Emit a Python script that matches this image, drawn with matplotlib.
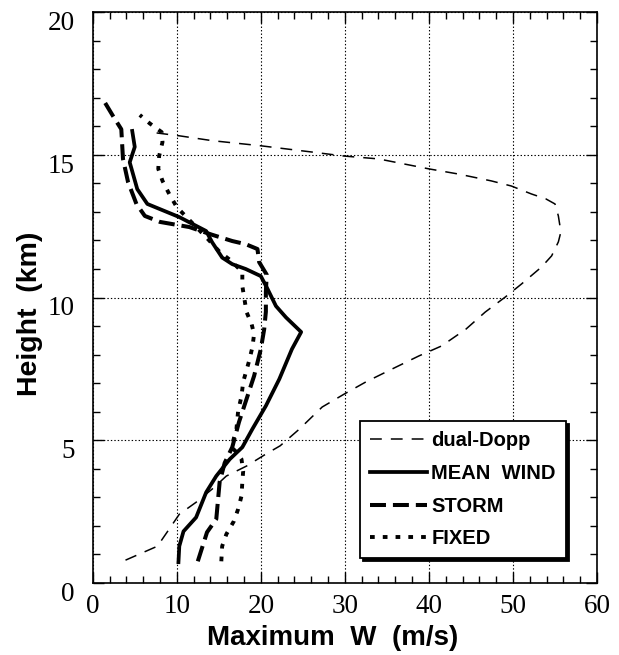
import matplotlib
matplotlib.use("Agg")
import matplotlib.pyplot as plt
import matplotlib.transforms as mtransforms
from matplotlib.ticker import MultipleLocator

# ---- data (W in m/s, height in km) ----
dual_w = [3.9, 7.7, 9.1, 10.3, 12.3, 14.2, 15.9, 18.3, 20.6, 22.3, 24.6, 27.3, 29.9,
          32.5, 35.6, 38.8, 41.5, 44.4, 46.7, 49.1, 51.0, 53.4, 54.6, 55.4, 55.7,
          55.4, 55.0, 53.9, 52.2, 49.8, 47.4, 43.5, 40.0, 34.0, 29.9, 26.1, 22.2,
          20.0, 14.2, 10.3, 7.6]
dual_h = [0.79, 1.28, 1.88, 2.4, 2.82, 3.28, 3.74, 4.09, 4.51, 4.8, 5.39, 6.16, 6.61,
          7.04, 7.49, 7.95, 8.30, 8.89, 9.49, 10.02, 10.47, 11.07, 11.46, 11.95, 12.3,
          12.86, 13.28, 13.46, 13.63, 13.91, 14.09, 14.33, 14.51, 14.86, 14.96, 15.1,
          15.24, 15.32, 15.5, 15.67, 15.77]

mean_w = [10.2, 10.3, 10.8, 12.3, 13.5, 14.7, 16.3, 17.8, 19.0, 20.6, 22.2, 23.7, 24.8,
          23.0, 21.8, 20.8, 20.0, 18.2, 16.6, 15.4, 14.2, 13.5, 10.3, 6.5, 5.3, 4.4,
          5.0, 4.7]
mean_h = [0.72, 1.28, 1.8, 2.29, 3.17, 3.74, 4.33, 4.75, 5.39, 6.2, 7.14, 8.19, 8.79,
          9.3, 9.7, 10.3, 10.75, 11.0, 11.17, 11.4, 11.94, 12.33, 12.82, 13.28, 13.8,
          14.74, 15.28, 15.84]

storm_w = [12.5, 13.6, 14.7, 15.1, 15.7, 16.6, 17.4, 18.3, 19.2, 20.0, 20.4, 20.6, 20.6,
           20.7, 19.8, 19.6, 18.2, 16.6, 14.2, 11.5, 8.0, 6.2, 5.2, 4.2, 3.6, 3.4,
           2.4, 1.4]
storm_h = [0.75, 1.77, 2.23, 3.53, 4.2, 4.75, 5.63, 6.44, 7.25, 8.19, 8.89, 9.5, 10.2,
           10.8, 11.24, 11.7, 11.87, 11.98, 12.2, 12.47, 12.65, 12.86, 13.28, 14.05,
           14.86, 15.9, 16.37, 16.86]

fixed_w = [15.3, 15.4, 15.9, 16.8, 17.3, 17.7, 17.8, 17.9, 17.7, 17.1, 16.5, 17.1, 17.3,
           17.7, 17.9, 18.6, 19.0, 19.2, 18.9, 18.3, 17.8, 17.8, 16.5, 15.1, 13.7,
           10.0, 9.1, 8.3, 7.8, 7.9, 8.3, 8.2, 6.8, 5.6]
fixed_h = [0.75, 1.28, 1.7, 2.16, 2.58, 3.04, 3.53, 3.91, 4.33, 4.58, 4.75, 5.39, 6.02,
           6.54, 7.04, 7.77, 8.26, 8.72, 9.07, 9.49, 10.4, 10.89, 11.28, 11.6, 12.05,
           13.17, 13.63, 14.09, 14.51, 14.96, 15.45, 15.8, 16.1, 16.4]

labels = ["dual-Dopp", "MEAN  WIND", "STORM", "FIXED"]
x_ticks = [0, 10, 20, 30, 40, 50, 60]
y_ticks = [0, 5, 10, 15, 20]

plt.rcParams['lines.scale_dashes'] = False

fig = plt.figure(figsize=(6.19, 6.55), dpi=100)
ax = fig.add_axes([0.1498, 0.1104, 0.8147, 0.8708])

ax.plot(dual_w, dual_h, color='black', lw=1.1, dashes=(8.5, 6.5), label=labels[0])
ax.plot(mean_w, mean_h, color='black', lw=2.7, solid_joinstyle='round', label=labels[1])
ax.plot(storm_w, storm_h, color='black', lw=2.9, dashes=(11.5, 5), dash_capstyle='butt',
        label=labels[2])
ax.plot(fixed_w, fixed_h, color='black', lw=2.8, dashes=(3.4, 5.8), dash_capstyle='butt',
        label=labels[3])

ax.set_xlim(0, 60)
ax.set_ylim(0, 20)
ax.set_xticks(x_ticks)
ax.set_yticks(y_ticks)
ax.xaxis.set_minor_locator(MultipleLocator(2))
ax.yaxis.set_minor_locator(MultipleLocator(1))
ax.tick_params(which='both', direction='in', top=True, right=True, color='black', width=1.0)
ax.tick_params(which='major', length=8)
ax.tick_params(which='minor', length=5)
ax.tick_params(axis='x', which='major', pad=8)
ax.tick_params(axis='y', which='major', pad=13)
for lab in ax.get_xticklabels() + ax.get_yticklabels():
    lab.set_fontfamily('Liberation Serif')
    lab.set_fontsize(19.5)
# y tick labels sit slightly below their ticks in the reference
shift = mtransforms.ScaledTranslation(0, -6 / 72, fig.dpi_scale_trans)
for lab in ax.get_yticklabels():
    lab.set_transform(lab.get_transform() + shift)
for s in ax.spines.values():
    s.set_linewidth(1.2)
ax.grid(True, which='major', color='black', linestyle=(0, (1, 1.5)), linewidth=0.8)

ax.set_xlabel("Maximum  W  (m/s)", fontfamily='Liberation Sans', fontweight='bold',
              fontsize=20)
ax.xaxis.set_label_coords(0.475, -0.074)
ax.set_ylabel("Height  (km)", fontfamily='Liberation Sans', fontweight='bold',
              fontsize=20.5)
ax.yaxis.set_label_coords(-0.098, 0.471)

leg = ax.legend(loc='upper left', bbox_to_anchor=(0.53, 0.283), borderaxespad=0,
                prop={'family': 'Liberation Sans', 'weight': 'bold', 'size': 14.5},
                frameon=True, fancybox=False, edgecolor='black', framealpha=1,
                shadow={'color': 'black', 'alpha': 1}, handlelength=2.85,
                handletextpad=0.2, labelspacing=0.68, borderpad=0.5)
leg.get_frame().set_linewidth(1.3)

fig.savefig("out.png", dpi=100)
